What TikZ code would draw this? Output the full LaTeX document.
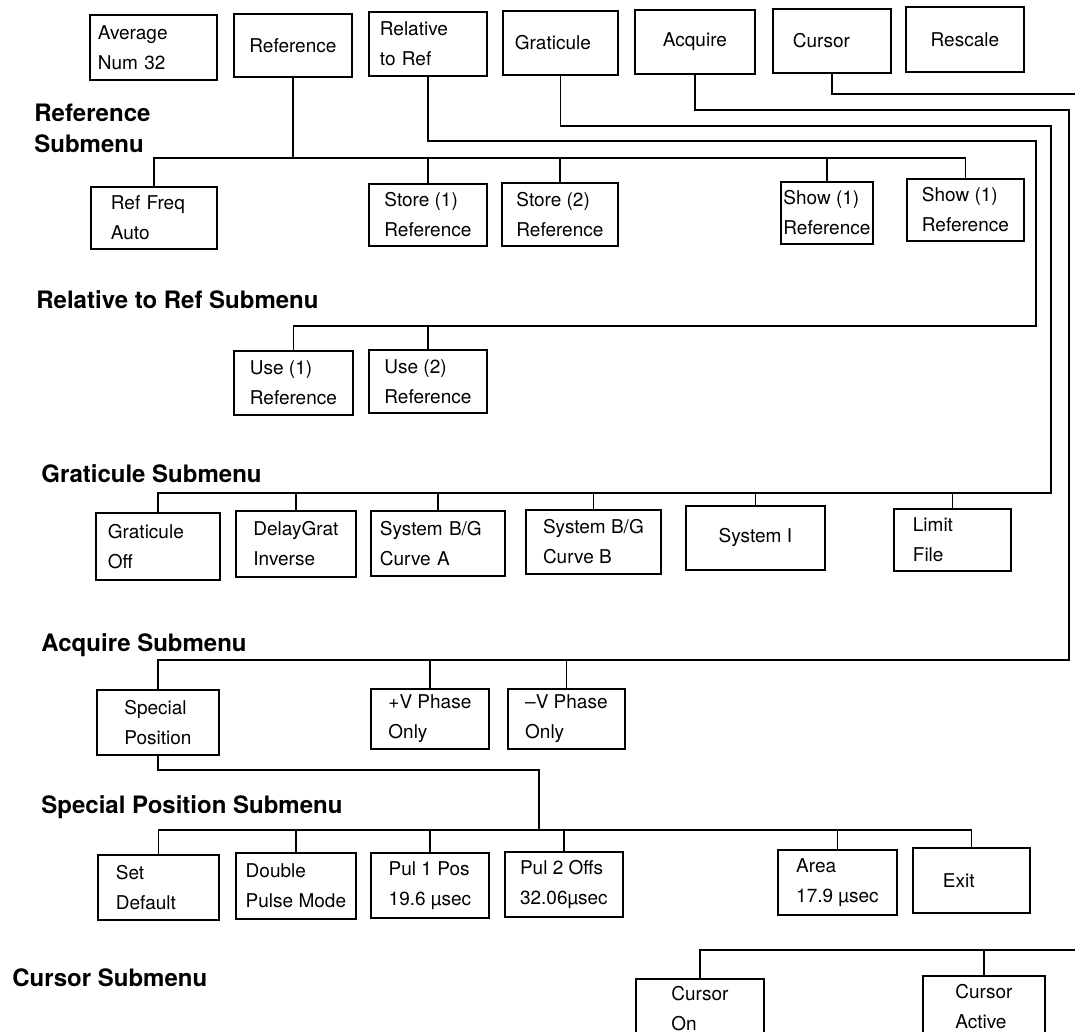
\documentclass[tikz,border=0pt]{standalone}
\usepackage{fontspec}
\setmainfont{TeX Gyre Heros}

\begin{document}
\begin{tikzpicture}[
    x=0.5pt, y=-0.5pt,
    menubox/.style={draw, line width=0.9pt, anchor=north west, align=left, inner sep=0pt, font=\fontsize{9.5}{15}\selectfont},
    subhead/.style={anchor=north west, align=left, inner sep=0pt, font=\fontsize{12}{15.5}\selectfont\bfseries},
    wire/.style={line width=0.9pt}
]
\useasboundingbox (0,0) rectangle (1075,1032);

% main menu
\node[menubox, minimum width=63.5pt, minimum height=32.5pt, text width=55.5pt] (avg) at (89,14) {Average\\Num 32};
\node[menubox, minimum width=59pt, minimum height=31.5pt] (ref) at (233,13) {Reference};
\node[menubox, minimum width=59pt, minimum height=32pt, text width=48pt] (rel) at (368,11) {Relative\\to Ref};
\node[menubox, minimum width=57.5pt, minimum height=32pt, text width=45.5pt] (grat) at (502,10) {Graticule};
\node[menubox, minimum width=60pt, minimum height=32pt] (acq) at (634,9) {Acquire};
\node[menubox, minimum width=59pt, minimum height=32pt, text width=39pt] (cur) at (772,8) {Cursor};
\node[menubox, minimum width=59pt, minimum height=32.5pt] (resc) at (905,6) {Rescale};

% bus lines and lanes
\coordinate (busRef) at (0,158);
\coordinate (busRel) at (0,326);
\coordinate (busGrat) at (0,493);
\coordinate (busAcq) at (0,660);
\coordinate (busSpos) at (0,830);
\coordinate (laneRel) at (1036,141);
\coordinate (laneGrat) at (1051,126);
\coordinate (laneAcq) at (1069,110);
\coordinate (laneCur) at (1075,94);
\coordinate (laneSpos) at (539,770);
\coordinate (cursorIn) at (1075,950);

% Reference submenu
\node[subhead] (hRef) at (34,104) {Reference\\Submenu};
\node[menubox, minimum width=63pt, minimum height=31pt, text width=43pt] (rfreq) at (90,186) {Ref Freq\\Auto};
\node[menubox, minimum width=59pt, minimum height=31pt] (st1) at (368,183) {Store (1)\\Reference};
\node[menubox, minimum width=58pt, minimum height=31.5pt] (st2) at (501,182) {Store (2)\\Reference};
\node[menubox, minimum width=46pt, minimum height=31pt] (sh1) at (780,181) {Show (1)\\Reference};
\node[menubox, minimum width=58.5pt, minimum height=31pt] (sh2) at (906,178) {Show (1)\\Reference};

% Relative to Ref submenu
\node[subhead] (hRel) at (36,290) {Relative to Ref Submenu};
\node[menubox, minimum width=59.5pt, minimum height=32pt] (use1) at (233,350) {Use (1)\\Reference};
\node[menubox, minimum width=59pt, minimum height=31.5pt] (use2) at (368,349) {Use (2)\\Reference};

% Graticule submenu
\node[subhead] (hGrat) at (41,464) {Graticule Submenu};
\node[menubox, minimum width=62pt, minimum height=33.5pt, text width=50pt] (goff) at (95,512) {Graticule\\Off};
\node[menubox, minimum width=60pt, minimum height=33pt] (dgrat) at (235,510) {DelayGrat\\Inverse};
\node[menubox, minimum width=67pt, minimum height=32.5pt, text width=58pt] (curA) at (370,510) {System B/G\\Curve A};
\node[menubox, minimum width=67.5pt, minimum height=32pt] (curB) at (525,509) {System B/G\\Curve B};
\node[menubox, minimum width=69.5pt, minimum height=32pt] (sysI) at (685,505) {System I};
\node[menubox, minimum width=58.5pt, minimum height=31pt, text width=39.5pt] (limf) at (893,508) {Limit\\File};

% Acquire submenu
\node[subhead] (hAcq) at (41,633) {Acquire Submenu};
\node[menubox, minimum width=61pt, minimum height=32.5pt] (spos) at (96,689) {Special\\Position};
\node[menubox, minimum width=59pt, minimum height=30pt] (vpl) at (370,688) {+V Phase\\Only};
\node[menubox, minimum width=58.5pt, minimum height=30pt] (vmi) at (507,688) {–V Phase\\Only};

% Special Position submenu
\node[subhead] (hSpos) at (41,795) {Special Position Submenu};
\node[menubox, minimum width=60.5pt, minimum height=32.5pt, text width=42.5pt] (sdef) at (97,854) {Set\\Default};
\node[menubox, minimum width=60pt, minimum height=33pt] (dpm) at (235,852) {Double\\Pulse Mode};
\node[menubox, minimum width=59pt, minimum height=32.5pt] (p1) at (370,852) {Pul 1 Pos\\19.6 µsec};
\node[menubox, minimum width=59pt, minimum height=32.5pt] (p2) at (504,851) {Pul 2 Offs\\32.06µsec};
\node[menubox, minimum width=59.5pt, minimum height=32.5pt] (area) at (777,849) {Area\\17.9 µsec};
\node[menubox, minimum width=58.5pt, minimum height=32.5pt, text width=28.5pt] (exit) at (912,847) {Exit};

% Cursor submenu
\node[subhead] (hCur) at (12,968) {Cursor Submenu};
\node[menubox, minimum width=64pt, minimum height=30pt] (con) at (635,978) {Cursor\\On};
\node[menubox, minimum width=61pt, minimum height=31pt] (cact) at (922,975) {Cursor\\Active};

% connectors
\draw[wire] (ref.south) -- (ref.south |- busRef);
\draw[wire] (rfreq.north) |- (sh2.north |- busRef) -- (sh2.north);
\foreach \n in {st1, st2, sh1}
    \draw[wire] (\n.north) -- (\n.north |- busRef);

\draw[wire] (rel.south) |- (laneRel) |- (use1.north |- busRel) -- (use1.north);
\draw[wire] (use2.north) -- (use2.north |- busRel);

\draw[wire] (grat.south) |- (laneGrat) |- (goff.north |- busGrat) -- (goff.north);
\foreach \n in {dgrat, curA, curB, sysI, limf}
    \draw[wire] (\n.north) -- (\n.north |- busGrat);

\draw[wire] (acq.south) |- (laneAcq) |- (spos.north |- busAcq) -- (spos.north);
\foreach \n in {vpl, vmi}
    \draw[wire] (\n.north) -- (\n.north |- busAcq);

\draw[wire] (spos.south) |- (laneSpos) -- (laneSpos |- busSpos);
\draw[wire] (sdef.north) |- (exit.north |- busSpos) -- (exit.north);
\foreach \n in {dpm, p1, p2, area}
    \draw[wire] (\n.north) -- (\n.north |- busSpos);

\draw[wire] (cur.south) |- (laneCur);
\draw[wire] (cursorIn) -| (con.north);
\draw[wire] (cact.north) -- (cact.north |- cursorIn);

\end{tikzpicture}
\end{document}
